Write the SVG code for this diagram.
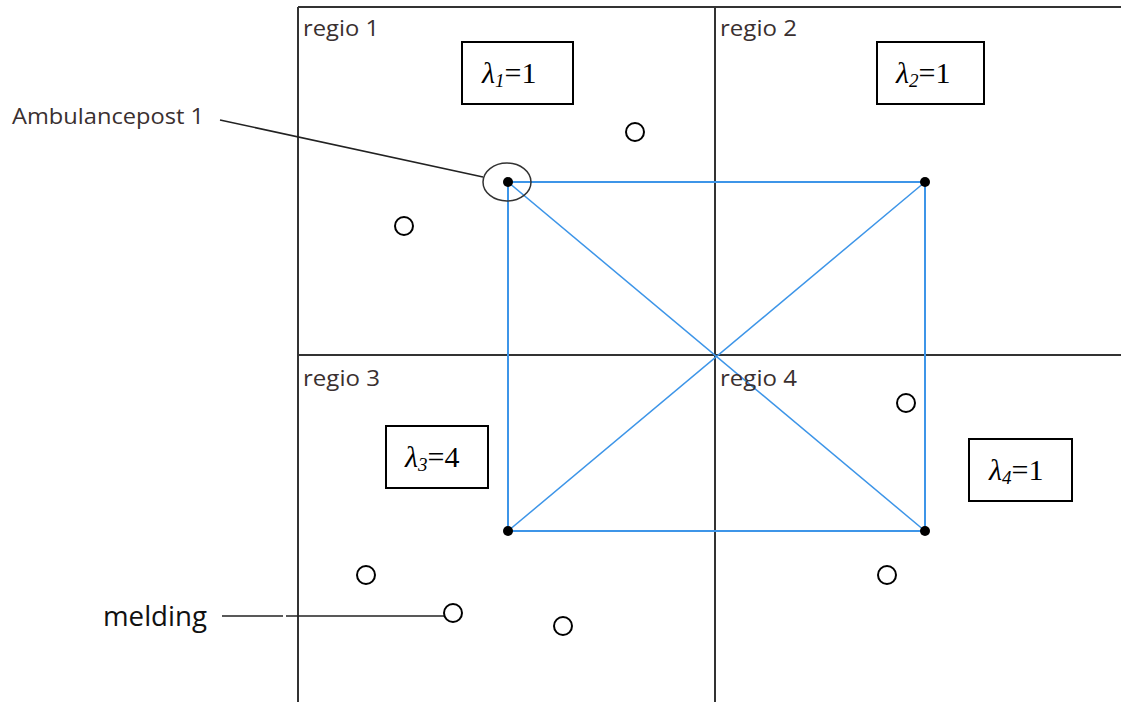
<svg xmlns="http://www.w3.org/2000/svg" width="1121" height="702" viewBox="0 0 1121 702">
<style>
.grid{stroke:#333;stroke-width:2;fill:none}
.blue{stroke:#3d95e8;fill:none}
.box{fill:#fff;stroke:#000;stroke-width:2}
.mc{fill:#fff;stroke:#000;stroke-width:2}
.reg{font-family:"Open Sans","Liberation Sans",sans-serif;font-size:22px;fill:#3a3030}
.lam{font-family:"Liberation Serif",serif;font-size:30px;fill:#000}
.lead{stroke:#222;stroke-width:1.5;fill:none}
</style>
<rect width="1121" height="702" fill="#fff"/>
<g id="grid">
<line class="grid" x1="298" y1="7" x2="1121" y2="7"/>
<line class="grid" x1="298" y1="7" x2="298" y2="702"/>
<line class="grid" x1="715" y1="7" x2="715" y2="702"/>
<line class="grid" x1="298" y1="355" x2="1121" y2="355"/>
</g>
<g id="connectors">
<rect class="blue" x="508" y="182" width="417" height="349" stroke-width="2"/>
<line class="blue" x1="508" y1="182" x2="925" y2="531" stroke-width="1.5"/>
<line class="blue" x1="925" y1="182" x2="508" y2="531" stroke-width="1.5"/>
<line class="lead" x1="220" y1="120" x2="483" y2="177"/>
<line class="lead" x1="222" y1="616" x2="283" y2="616"/>
<line class="lead" x1="286" y1="616" x2="444" y2="616"/>
</g>
<g id="regio1"><text class="reg" x="303" y="36" textLength="76" lengthAdjust="spacingAndGlyphs">regio 1</text></g>
<g id="regio2"><text class="reg" x="720" y="36" textLength="77" lengthAdjust="spacingAndGlyphs">regio 2</text></g>
<g id="regio3"><text class="reg" x="303" y="386" textLength="77" lengthAdjust="spacingAndGlyphs">regio 3</text></g>
<g id="regio4"><text class="reg" x="720" y="386" textLength="77" lengthAdjust="spacingAndGlyphs">regio 4</text></g>
<g id="lambda1"><rect class="box" x="462" y="42" width="111" height="62"/><text class="lam" x="482" y="83"><tspan font-style="italic">λ</tspan><tspan font-style="italic" font-size="19" dy="4">1</tspan><tspan dy="-4">=1</tspan></text></g>
<g id="lambda2"><rect class="box" x="877" y="42" width="107" height="62"/><text class="lam" x="896" y="83"><tspan font-style="italic">λ</tspan><tspan font-style="italic" font-size="19" dy="4">2</tspan><tspan dy="-4">=1</tspan></text></g>
<g id="lambda3"><rect class="box" x="386" y="426" width="102" height="62"/><text class="lam" x="405" y="467"><tspan font-style="italic">λ</tspan><tspan font-style="italic" font-size="19" dy="4">3</tspan><tspan dy="-4">=4</tspan></text></g>
<g id="lambda4"><rect class="box" x="969" y="439" width="103" height="62"/><text class="lam" x="989" y="480"><tspan font-style="italic">λ</tspan><tspan font-style="italic" font-size="19" dy="4">4</tspan><tspan dy="-4">=1</tspan></text></g>
<g id="post1"><ellipse cx="507" cy="182" rx="24" ry="19" fill="none" stroke="#333" stroke-width="1.5"/><circle cx="508" cy="182" r="5" fill="#000"/></g>
<g id="post2"><circle cx="925" cy="182" r="5" fill="#000"/></g>
<g id="post3"><circle cx="508" cy="531" r="5" fill="#000"/></g>
<g id="post4"><circle cx="925" cy="531" r="5" fill="#000"/></g>
<g id="meldingen">
<circle class="mc" cx="635" cy="132" r="9"/>
<circle class="mc" cx="404" cy="226" r="9"/>
<circle class="mc" cx="906" cy="403" r="9"/>
<circle class="mc" cx="366" cy="575" r="9"/>
<circle class="mc" cx="453" cy="613" r="9"/>
<circle class="mc" cx="563" cy="626" r="9"/>
<circle class="mc" cx="887" cy="575" r="9"/>
</g>
<g id="label-post"><text class="reg" x="12" y="124" fill="#2d3540" textLength="192" lengthAdjust="spacingAndGlyphs">Ambulancepost 1</text></g>
<g id="label-melding"><text x="103" y="626" font-family="'Open Sans','Liberation Sans',sans-serif" font-size="27" fill="#111" textLength="104" lengthAdjust="spacingAndGlyphs">melding</text></g>
</svg>
